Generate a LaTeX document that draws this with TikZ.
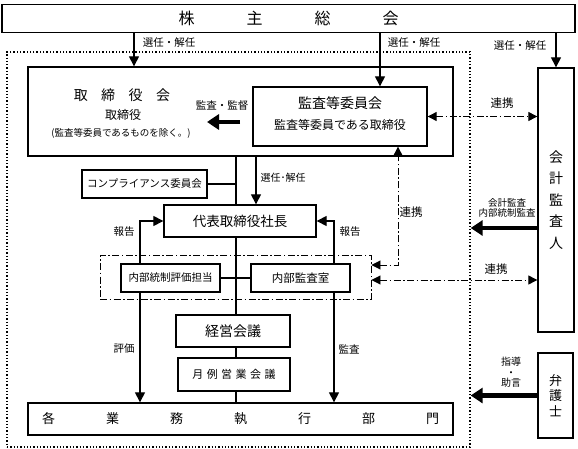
\documentclass[tikz,border=0pt]{standalone}
\usepackage{fontspec}
\setmainfont{Noto Sans CJK JP}
\usetikzlibrary{arrows.meta,calc,positioning}
\newcommand{\jpfont}[2]{\fontsize{#1}{#2}\selectfont}

\begin{document}
\begin{tikzpicture}[x=1pt, y=-1pt]
	\tikzstyle{every node}=[font=\jpfont{11.5}{12}, inner sep=0pt]
	\tikzstyle{box}=[draw, line width=1.3pt]
	\tikzstyle{lbl}=[font=\jpfont{10.5}{11}]
	\tikzstyle{arr}=[line width=1.1pt, -{Triangle[length=10pt,width=10pt]}]
	\tikzstyle{fatarr}=[line width=4.5pt, -{Triangle[length=12pt,width=15pt]}]
	\tikzstyle{link}=[line width=0.9pt, dash pattern=on 7pt off 2.5pt on 1.5pt off 2.5pt, {Triangle[length=9pt,width=9pt]}-{Triangle[length=9pt,width=9pt]}]
	\useasboundingbox (0,0) rectangle (578,449);
	% frame and boxes
	\node [draw, dotted, line width=1.3pt, minimum width=463pt, minimum height=395pt] (frame) at (238.5,249.5) {};
	\node [box, minimum width=573pt, minimum height=28pt, font=\jpfont{16}{16}] (gm) at (288.5,18.5) {株\hspace{52pt}主\hspace{52pt}総\hspace{52pt}会};
	\node [box, minimum width=425pt, minimum height=89pt] (board) at (240.5,111.5) {};
	\node [font=\jpfont{14}{14}] (boardname) at (122,95) {取\hspace{13.5pt}締\hspace{13.5pt}役\hspace{13.5pt}会};
	\node [font=\jpfont{12}{12}] (boardmem) at (123,115) {取締役};
	\node [font=\jpfont{9.5}{10}] (boardnote) at (121,133) {(監査等委員であるものを除く。)};
	\node [box, minimum width=174pt, minimum height=59pt] (acc) at (340,116.5) {};
	\node [font=\jpfont{14}{14}] (accname) at (340,103) {監査等委員会};
	\node [font=\jpfont{12}{12}] (accmem) at (340,125) {監査等委員である取締役};
	\node [box, minimum width=125pt, minimum height=28pt, font=\jpfont{10.5}{11}] (compl) at (144.5,184) {コンプライアンス委員会};
	\node [box, minimum width=152pt, minimum height=32pt, font=\jpfont{13.5}{14}] (ceo) at (240,221) {代表取締役社長};
	\node [draw, line width=0.9pt, dash pattern=on 7pt off 2.5pt on 1.5pt off 2.5pt, minimum width=271pt, minimum height=44pt] (grp) at (235.5,277) {};
	\node [box, minimum width=99pt, minimum height=28pt, font=\jpfont{10.5}{11}] (icr) at (170.5,278) {内部統制評価担当};
	\node [box, minimum width=99pt, minimum height=28pt, font=\jpfont{11.5}{12}] (ia) at (300.5,278) {内部監査室};
	\node [box, minimum width=114pt, minimum height=32pt, font=\jpfont{14}{14}] (mgmt) at (233,331) {経営会議};
	\node [box, minimum width=112pt, minimum height=33pt, font=\jpfont{11}{11}] (monthly) at (234,374.5) {月\hspace{3.5pt}例\hspace{3.5pt}営\hspace{3.5pt}業\hspace{3.5pt}会\hspace{3.5pt}議};
	\node [box, minimum width=425pt, minimum height=32pt, font=\jpfont{13}{13}] (dept) at (240.5,419) {各\hspace{51pt}業\hspace{51pt}務\hspace{51pt}執\hspace{51pt}行\hspace{51pt}部\hspace{51pt}門};
	\node [box, minimum width=36pt, minimum height=264pt, align=center, font=\jpfont{14}{21.5}] (auditor) at (556,200) {会\\計\\監\\査\\人};
	\node [box, minimum width=35pt, minimum height=85pt, align=center, font=\jpfont{13}{15.5}] (lawyer) at (555.5,395.5) {弁\\護\\士};
	% x and y positions of the lines
	\coordinate (xa) at (134,0);
	\coordinate (xb) at (380,0);
	\coordinate (xc) at (256,0);
	\coordinate (xs) at (236,0);
	\coordinate (xl) at (140,0);
	\coordinate (xr) at (334,0);
	\coordinate (xk) at (398,0);
	\coordinate (ya) at (0,228);
	\coordinate (yb) at (0,265);
	\coordinate (yc) at (0,280);
	\coordinate (sv1) at (240,122);
	\coordinate (sv2) at (207,122);
	% appointment
	\draw [arr] (gm.south -| xa) -- (board.north -| xa);
	\draw [arr] (gm.south -| xb) -- (acc.north -| xb);
	\draw [arr] (gm.south -| auditor.north) -- (auditor.north);
	\node [lbl] (sel1) at (169,43) {選任・解任};
	\node [lbl] (sel2) at (414,43) {選任・解任};
	\node [lbl] (sel3) at (520,46) {選任・解任};
	\draw [fatarr] (sv1) -- (sv2);
	\node [lbl] (supv) at (222,106) {監査・監督};
	\draw [link] (acc.east) -- (acc.east -| auditor.west);
	\node (link1) at (502,103) {連携};
	% spine
	\draw [line width=1.1pt] (board.south -| xs) -- (ceo.north -| xs) (ceo.south -| xs) -- (mgmt.north -| xs) (mgmt.south -| xs) -- (monthly.north -| xs) (monthly.south -| xs) -- (dept.north -| xs);
	\draw [line width=1.1pt] (compl.east) -- (compl.east -| xs);
	\draw [line width=1.1pt] (icr.east) -- (ia.west);
	\draw [arr] (board.south -| xc) -- (ceo.north -| xc);
	\node [font=\jpfont{10}{10}] (sel4) at (283,178) {選任･解任};
	% reports and audits
	\draw [arr] (icr.north -| xl) |- (ceo.west);
	\draw [arr] (ia.north -| xr) |- (ceo.east);
	\node [lbl] (rep1) at (124,232) {報告};
	\node [lbl] (rep2) at (350,232) {報告};
	\draw [arr] (icr.south -| xl) -- (dept.north -| xl);
	\draw [arr] (ia.south -| xr) -- (dept.north -| xr);
	\node [lbl] (eval) at (124,349) {評価};
	\node [lbl] (aud) at (349,349) {監査};
	% cooperation
	\draw [link] (grp.east |- yb) -| (acc.south -| xk);
	\node (link2) at (411,212) {連携};
	\draw [link] (grp.east |- yc) -- (auditor.west |- yc);
	\node (link3) at (496,269) {連携};
	% outside
	\draw [fatarr] (auditor.west |- ya) -- (frame.east |- ya);
	\node [font=\jpfont{9.5}{10.5}, align=center] (accaud) at (507,208) {会計監査\\内部統制監査};
	\draw [fatarr] (lawyer.west) -- (lawyer.west -| frame.east);
	\node [font=\jpfont{10}{10.5}, align=center] (advice) at (511,372.5) {指導\\・\\助言};
\end{tikzpicture}
\end{document}
